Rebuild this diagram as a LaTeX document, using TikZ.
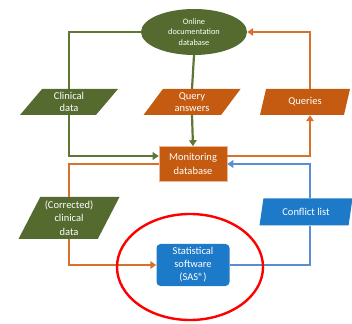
\documentclass[tikz,border=0pt]{standalone}
\usepackage{fontspec}
\setmainfont{Carlito}
\usetikzlibrary{arrows.meta,shapes.geometric,positioning}
\definecolor{olivefill}{RGB}{84,106,46}
\definecolor{olivelink}{RGB}{92,120,52}
\definecolor{rustfill}{RGB}{197,90,17}
\definecolor{rustlink}{RGB}{214,114,44}
\definecolor{seafill}{RGB}{28,122,200}
\definecolor{sealink}{RGB}{90,142,212}

\begin{document}
\begin{tikzpicture}[x=1pt,y=1pt,
  every node/.style={text=white,align=center,font=\fontsize{10.5}{12.5}\selectfont},
  datafig/.style={trapezium,trapezium stretches body,trapezium left angle=#1,
    trapezium right angle=180-#1,minimum height=26pt,inner xsep=1pt,inner ysep=0pt},
  datafig/.default=45,
  link/.style={line width=2.2pt},
  tip/.style={link,-{Triangle[length=6pt,width=7.5pt]}}]
  \useasboundingbox (0,0) rectangle (352,323);
  % nodes
  \node[ellipse,fill=olivefill,minimum width=106pt,minimum height=46pt,inner sep=0pt,
    font=\fontsize{8.3}{10.5}\selectfont] (onlinedb) at (194,291) {Online\\documentation\\database};
  \node[datafig=42,fill=olivefill,minimum width=98pt] (clinical) at (69,221) {Clinical\\data};
  \node[datafig,fill=rustfill,minimum width=97pt] (answers) at (192,221) {Query\\answers};
  \node[datafig=55,fill=rustfill,minimum width=90pt] (queries) at (305,221) {Queries};
  \node[rectangle,fill=rustfill,draw=rustlink!50!white,line width=0.6pt,font=\fontsize{10.5}{14}\selectfont,
    minimum width=68pt,minimum height=35pt,inner sep=0pt] (monitor) at (193,159) {Monitoring\\database};
  \node[datafig=58,fill=olivefill,minimum width=101pt,minimum height=42pt,
    font=\fontsize{10.5}{13.5}\selectfont] (corrected) at (69,105) {(Corrected)\\clinical\\data};
  \node[rectangle,rounded corners=4pt,fill=seafill,minimum width=73pt,minimum height=42pt,
    inner sep=0pt,font=\fontsize{10.5}{13}\selectfont] (sas) at (193,58) {Statistical\\software\\(SAS®)};
  \node[datafig=62,fill=seafill,minimum width=93pt,minimum height=27pt] (conflict) at (306,111) {Conflict list};
  % connectors
  \draw[link,olivelink] (onlinedb.west) -| (clinical.north);
  \draw[tip,olivelink] (clinical.south) |- ([yshift=8pt]monitor.west);
  \draw[link,olivelink] (onlinedb.south) -- (answers.north);
  \draw[tip,olivelink] (answers.south) -- (monitor.north);
  \draw[tip,rustlink] ([yshift=8pt]monitor.east) -| ([xshift=5pt]queries.south);
  \draw[tip,rustlink] ([xshift=5pt]queries.north) |- (onlinedb.east);
  \draw[link,rustlink] (monitor.west) -| (corrected.north);
  \draw[tip,rustlink] (corrected.south) |- (sas.west);
  \draw[link,sealink] (sas.east) -| ([xshift=4pt]conflict.south);
  \draw[tip,sealink] ([xshift=4pt]conflict.north) |- (monitor.east);
  % highlight
  \draw[red,line width=2.4pt] (190,56) ellipse (73 and 53);
\end{tikzpicture}
\end{document}
